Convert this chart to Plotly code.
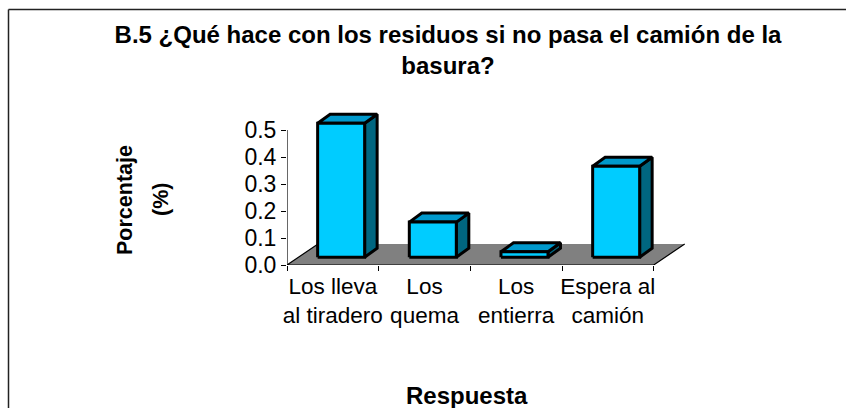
import plotly.graph_objects as go

categories = ["Los lleva<br>al tiradero", "Los<br>quema", "Los<br>entierra", "Espera al<br>camión"]
values = [0.496, 0.13, 0.02, 0.337]
y_ticks = [0.0, 0.1, 0.2, 0.3, 0.4, 0.5]
title_text = "B.5 ¿Qué hace con los residuos si no pasa el camión de la<br>basura?"
y_title_lines = ["Porcentaje", "(%)"]
x_title = "Respuesta"

W, H = 846, 408
X0, X_PER_CAT = 287, 91.67   # px of first category edge, px per category
Y0, Y_PER_UNIT = 265, 270    # px of value 0, px per unit
PLOT_RIGHT, PLOT_TOP = 692, 108

FRONT, TOP, SIDE, FLOOR = "#00CCFF", "#0099CC", "#006680", "#808080"
FONT = "Liberation Sans, Arial, sans-serif"

dx = lambda px: px / X_PER_CAT
dy = lambda px: px / Y_PER_UNIT

n = len(categories)
x_lo, x_hi = -0.5, n - 0.5
floor_dx, floor_dy = dx(31), dy(21)
base_dx, base_dy = dx(8.3), dy(7.8)
bar_w = dx(47)
depth_x, depth_y = dx(12.5), dy(9)

fig = go.Figure()

def poly(xs, ys, fill, line_w=3):
    fig.add_trace(go.Scatter(
        x=xs, y=ys, mode="lines", fill="toself", fillcolor=fill,
        line=dict(color="black", width=line_w, shape="linear") if line_w else dict(width=0, color=fill),
        cliponaxis=False, hoverinfo="skip", showlegend=False))

def line(xs, ys, w=1.2):
    fig.add_trace(go.Scatter(x=xs, y=ys, mode="lines", line=dict(color="black", width=w),
                             cliponaxis=False, hoverinfo="skip", showlegend=False))

# floor
poly([x_lo, x_hi, x_hi + floor_dx, x_lo + floor_dx, x_lo],
     [0, 0, floor_dy, floor_dy, 0], FLOOR, 0)
line([x_lo + floor_dx, x_lo, x_hi, x_hi + floor_dx], [floor_dy, 0, 0, floor_dy])

# axes lines
line([x_lo, x_lo], [y_ticks[0], y_ticks[-1]])

# bars
for i, v in enumerate(values):
    l = i + base_dx - bar_w / 2
    r = l + bar_w
    b = base_dy
    t = base_dy + v
    poly([r, r + depth_x, r + depth_x, r, r], [b, b + depth_y, t + depth_y, t, b], SIDE)
    poly([l, l + depth_x, r + depth_x, r, l], [t, t + depth_y, t + depth_y, t, t], TOP)
    poly([l, r, r, l, l], [b, b, t, t, b], FRONT)

fig.update_layout(
    template="none",
    width=W, height=H, autosize=False,
    margin=dict(l=0, r=0, t=0, b=0, pad=0),
    paper_bgcolor="white", plot_bgcolor="rgba(0,0,0,0)",
    showlegend=False,
    font=dict(family=FONT, color="black"),
    title=dict(text="<b>" + title_text + "</b>", x=448 / W, xanchor="center",
               y=1 - 43 / H, yanchor="top", font=dict(size=24, family=FONT, color="black")),
    xaxis=dict(
        domain=[X0 / W, PLOT_RIGHT / W],
        range=[x_lo, x_lo + (PLOT_RIGHT - X0) / X_PER_CAT],
        tickmode="array",
        tickvals=[float(i) for i in range(n)],
        ticktext=categories,
        ticks="outside", ticklen=1, tickcolor="rgba(0,0,0,0)",
        tickfont=dict(size=22.5, family=FONT, color="black"),
        minor=dict(ticks="outside", ticklen=5, tickwidth=1, tickcolor="black",
                   tickmode="array", tickvals=[x_lo + k for k in range(n + 1)]),
        showgrid=False, zeroline=False, showline=False, fixedrange=True, automargin=False),
    yaxis=dict(
        domain=[1 - Y0 / H, 1 - PLOT_TOP / H],
        range=[0, (Y0 - PLOT_TOP) / Y_PER_UNIT],
        tickmode="array", tickvals=y_ticks, ticktext=[f"{t:.1f}" for t in y_ticks],
        ticks="outside", ticklen=5, tickwidth=1, tickcolor="black",
        tickfont=dict(size=23, family=FONT, color="black"),
        showgrid=False, zeroline=False, showline=False, fixedrange=True, automargin=False),
    annotations=[
        dict(text="<b>" + x_title + "</b>", xref="paper", yref="paper", x=467 / W, y=1 - 395 / H,
             xanchor="center", yanchor="middle", showarrow=False,
             font=dict(size=24, family=FONT, color="black")),
        dict(text="<b>" + y_title_lines[0] + "</b>", xref="paper", yref="paper", x=125 / W, y=1 - 200 / H,
             xanchor="center", yanchor="middle", textangle=-90, showarrow=False,
             font=dict(size=21.5, family=FONT, color="black")),
        dict(text="<b>" + y_title_lines[1] + "</b>", xref="paper", yref="paper", x=161 / W, y=1 - 200 / H,
             xanchor="center", yanchor="middle", textangle=-90, showarrow=False,
             font=dict(size=21.5, family=FONT, color="black")),
    ],
    shapes=[
        dict(type="line", xref="paper", yref="paper", x0=8.5 / W, x1=8.5 / W, y0=0, y1=1 - 9.5 / H,
             line=dict(color="#222222", width=1.5)),
        dict(type="line", xref="paper", yref="paper", x0=8.5 / W, x1=1, y0=1 - 9.5 / H, y1=1 - 9.5 / H,
             line=dict(color="#222222", width=1.5)),
    ],
)

fig.write_html("out.html", config={"displayModeBar": False},
               post_script="document.body.style.margin='0';")
